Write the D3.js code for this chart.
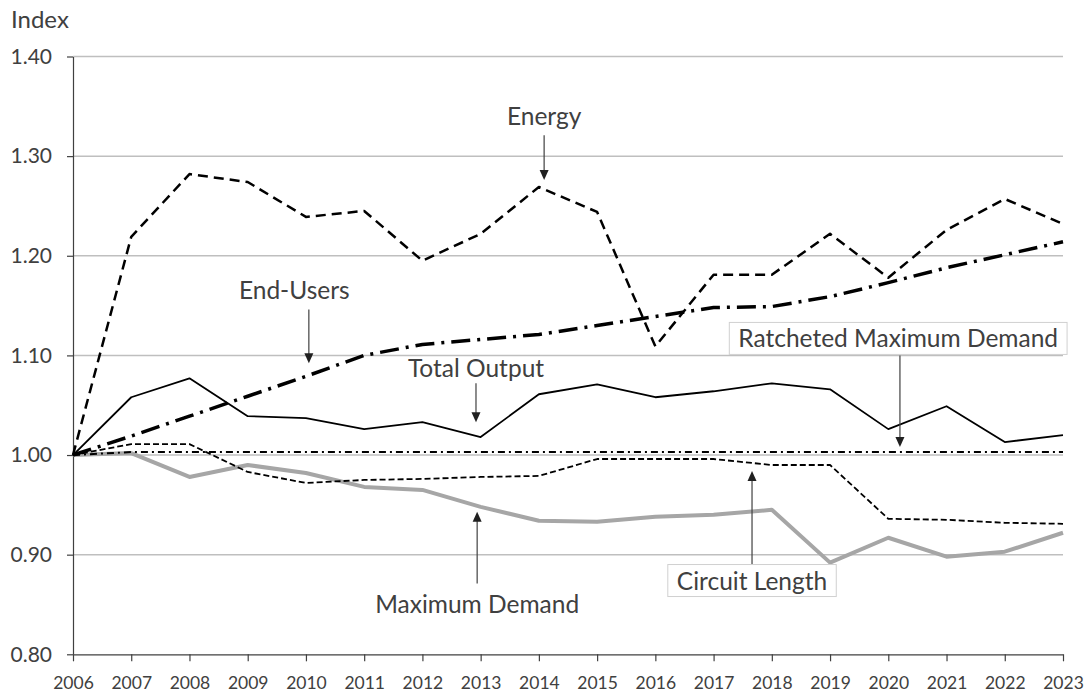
<!DOCTYPE html>
<html>
<head>
<meta charset="utf-8">
<script src="https://cdn.jsdelivr.net/npm/d3@7"></script>
<style>
  body { margin: 0; background: #fff; }
  svg text { font-family: Lato, "Open Sans", sans-serif; fill: #404040; }
</style>
</head>
<body>
<svg id="chart" width="1085" height="693"></svg>
<script>
// categories
var years = [2006, 2007, 2008, 2009, 2010, 2011, 2012, 2013, 2014, 2015,
             2016, 2017, 2018, 2019, 2020, 2021, 2022, 2023];

// series values (index, 2006 = 1.00)
var energy        = [1.000, 1.219, 1.282, 1.274, 1.239, 1.245, 1.195, 1.222, 1.269, 1.244,
                     1.109, 1.181, 1.181, 1.222, 1.178, 1.226, 1.257, 1.232];
var endUsers      = [1.000, 1.019, 1.039, 1.059, 1.079, 1.100, 1.111, 1.116, 1.121, 1.130,
                     1.139, 1.148, 1.149, 1.159, 1.173, 1.188, 1.201, 1.214];
var totalOutput   = [1.000, 1.058, 1.077, 1.039, 1.037, 1.026, 1.033, 1.018, 1.061, 1.071,
                     1.058, 1.064, 1.072, 1.066, 1.026, 1.049, 1.013, 1.020];
var ratcheted     = [1.000, 1.003, 1.003, 1.003, 1.003, 1.003, 1.003, 1.003, 1.003, 1.003,
                     1.003, 1.003, 1.003, 1.003, 1.003, 1.003, 1.003, 1.003];
var circuitLength = [1.000, 1.011, 1.011, 0.983, 0.972, 0.975, 0.976, 0.978, 0.979, 0.996,
                     0.996, 0.996, 0.990, 0.990, 0.936, 0.935, 0.932, 0.931];
var maxDemand     = [1.000, 1.002, 0.978, 0.990, 0.982, 0.968, 0.965, 0.948, 0.934, 0.933,
                     0.938, 0.940, 0.945, 0.892, 0.917, 0.898, 0.903, 0.922];

// tick labels
var yTicks = [0.80, 0.90, 1.00, 1.10, 1.20, 1.30, 1.40];

var svg = d3.select("#chart"),
    plotLeft = 73, plotRight = 1063, plotTop = 56.5, plotBottom = 654.3;

var x = d3.scaleLinear().domain([years[0], years[years.length - 1]]).range([plotLeft, plotRight]);
var y = d3.scaleLinear().domain([0.80, 1.40]).range([plotBottom, plotTop]);

// gridlines
svg.append("g")
    .selectAll("line")
    .data(yTicks.slice(1))
    .enter().append("line")
    .attr("x1", plotLeft).attr("x2", plotRight)
    .attr("y1", function(d) { return y(d); })
    .attr("y2", function(d) { return y(d); })
    .attr("stroke", "#bfbfbf")
    .attr("stroke-width", 1.5);

// axes
var yAxis = svg.append("g")
    .attr("transform", "translate(" + plotLeft + ",0)")
    .call(d3.axisLeft(y).tickValues(yTicks).tickFormat(d3.format(".2f"))
          .tickSize(6).tickSizeOuter(0).tickPadding(15));
var xAxis = svg.append("g")
    .attr("transform", "translate(0," + plotBottom + ")")
    .call(d3.axisBottom(x).tickValues(years).tickFormat(d3.format("d"))
          .tickSize(7).tickSizeOuter(0).tickPadding(15));

[yAxis, xAxis].forEach(function(a) {
  a.selectAll("path, line").attr("stroke", "#404040").attr("stroke-width", 1.2);
  a.selectAll("text").attr("fill", "#404040").style("font-family", "Lato, 'Open Sans', sans-serif");
});
yAxis.selectAll("text").style("font-size", "21px");
xAxis.selectAll("text").style("font-size", "17.5px");

svg.append("text")
    .attr("x", 11).attr("y", 28)
    .style("font-size", "24px")
    .text("Index");

// lines
var series = [
  { name: "Maximum Demand",  values: maxDemand,     color: "#a6a6a6", width: 4,   dash: null },
  { name: "Circuit Length",  values: circuitLength, color: "#000",    width: 1.8, dash: "6,3" },
  { name: "Ratcheted",       values: ratcheted,     color: "#000",    width: 2,   dash: "7,4,2,4" },
  { name: "Total Output",    values: totalOutput,   color: "#000",    width: 1.8, dash: null },
  { name: "End-Users",       values: endUsers,      color: "#000",    width: 3.5, dash: "19,7,3,7" },
  { name: "Energy",          values: energy,        color: "#000",    width: 2.5, dash: "10,6" }
];

var line = d3.line()
    .x(function(d, i) { return x(years[i]); })
    .y(function(d) { return y(d); });

svg.append("g")
    .selectAll("path")
    .data(series)
    .enter().append("path")
    .attr("d", function(d) { return line(d.values); })
    .attr("fill", "none")
    .attr("stroke", function(d) { return d.color; })
    .attr("stroke-width", function(d) { return d.width; })
    .attr("stroke-dasharray", function(d) { return d.dash; })
    .attr("stroke-linejoin", "round");

// annotations, anchored in chart units
var notes = [
  { label: "Energy",                   tx: 2014.09, ty: 1.331, ax: 2014.09, from: 1.321, to: 1.276, box: false },
  { label: "End-Users",                tx: 2009.80, ty: 1.157, ax: 2010.05, from: 1.146, to: 1.092, box: false },
  { label: "Total Output",             tx: 2012.92, ty: 1.078, ax: 2012.92, from: 1.072, to: 1.033, box: false },
  { label: "Ratcheted Maximum Demand", tx: 2020.17, ty: 1.108, ax: 2020.20, from: 1.100, to: 1.008, box: true },
  { label: "Circuit Length",           tx: 2017.66, ty: 0.865, ax: 2017.66, from: 0.890, to: 0.984, box: true },
  { label: "Maximum Demand",           tx: 2012.94, ty: 0.841, ax: 2012.94, from: 0.871, to: 0.943, box: false }
];

var note = svg.append("g").selectAll("g")
    .data(notes)
    .enter().append("g");

note.append("line")
    .attr("x1", function(d) { return x(d.ax); })
    .attr("x2", function(d) { return x(d.ax); })
    .attr("y1", function(d) { return y(d.from); })
    .attr("y2", function(d) { return y(d.to) + (d.to > d.from ? 9 : -9); })
    .attr("stroke", "#404040")
    .attr("stroke-width", 1.2);

note.append("path")
    .attr("d", function(d) {
      var px = x(d.ax), py = y(d.to), s = d.to > d.from ? 1 : -1;
      return "M" + px + "," + py + "L" + (px - 4.5) + "," + (py + s * 10) + "L" + (px + 4.5) + "," + (py + s * 10) + "Z";
    })
    .attr("fill", "#202020");

note.each(function(d) {
  var g = d3.select(this);
  var t = g.append("text")
      .attr("x", x(d.tx))
      .attr("y", y(d.ty))
      .attr("text-anchor", "middle")
      .style("font-size", "24.5px")
      .text(d.label);
  if (d.box) {
    var b = t.node().getBBox();
    g.insert("rect", "text")
        .attr("x", b.x - 9).attr("y", b.y - 1)
        .attr("width", b.width + 18).attr("height", b.height + 3)
        .attr("fill", "#fff")
        .attr("stroke", "#d0d0d0")
        .attr("stroke-width", 1);
  }
});
</script>
</body>
</html>
